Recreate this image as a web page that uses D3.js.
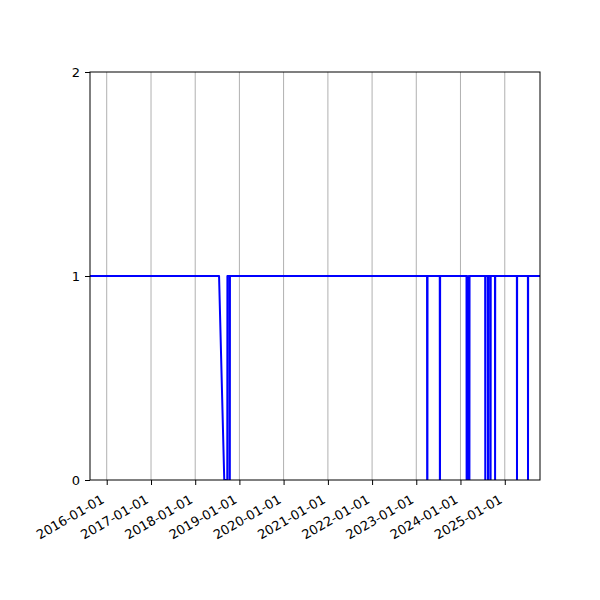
<!DOCTYPE html>
<html>
<head>
<meta charset="utf-8">
<script src="https://cdn.jsdelivr.net/npm/d3@7"></script>
<style>
  body { margin: 0; background: #fff; }
  .domain { display: none; }
  .grid line { stroke: #b0b0b0; stroke-width: 1; }
</style>
</head>
<body>
<svg id="chart" width="600" height="600"></svg>
<script>
// the series: 1 nearly everywhere, with a few drops to 0
const dates = [
    "2015-08-16", "2018-07-17", "2018-08-29", "2018-09-23", "2018-09-24",
    "2018-10-11", "2018-10-12", "2018-10-14", "2018-10-15",
    "2023-03-31", "2023-04-01", "2023-04-03", "2023-04-04",
    "2023-07-14", "2023-07-15", "2023-07-16", "2023-07-17",
    "2024-02-20", "2024-02-21", "2024-03-02", "2024-03-03", "2024-03-05", "2024-03-06", "2024-03-15", "2024-03-16",
    "2024-07-23", "2024-07-24", "2024-07-25",
    "2024-08-14", "2024-08-15", "2024-08-18", "2024-08-19",
    "2024-09-05", "2024-09-06", "2024-09-07",
    "2024-10-12", "2024-10-13", "2024-10-14",
    "2025-04-11", "2025-04-12", "2025-04-13",
    "2025-07-11", "2025-07-12", "2025-07-13",
    "2025-10-19"
];
const values = [
    1, 1, 0, 0, 1,
    1, 0, 0, 1,
    1, 0, 0, 1,
    1, 0, 0, 1,
    1, 0, 0, 1, 1, 0, 0, 1,
    1, 0, 1,
    1, 0, 0, 1,
    1, 0, 1,
    1, 0, 1,
    1, 0, 1,
    1, 0, 1,
    1
];
const xTicks = ["2016-01-01", "2017-01-01", "2018-01-01", "2019-01-01", "2020-01-01",
    "2021-01-01", "2022-01-01", "2023-01-01", "2024-01-01", "2025-01-01"];
const yTicks = [0, 1, 2];

const parse = d3.utcParse("%Y-%m-%d");
const margin = {top: 72, right: 60, bottom: 120, left: 90};
const width = 600 - margin.left - margin.right;
const height = 600 - margin.top - margin.bottom;

const points = dates.map((d, i) => ({date: parse(d), value: values[i]}));

const svg = d3.select('#chart');
const g = svg.append('g')
    .attr('transform', `translate(${margin.left},${margin.top})`);

const x = d3.scaleUtc()
    .domain(d3.extent(points, d => d.date))
    .range([0, width]);
const y = d3.scaleLinear()
    .domain([0, 2])
    .range([height, 0]);

// vertical grid
g.append('g')
    .classed('grid', true)
    .selectAll('line')
    .data(xTicks.map(parse))
    .join('line')
    .attr('x1', d => x(d))
    .attr('x2', d => x(d))
    .attr('y1', 0)
    .attr('y2', height);

g.append('clipPath')
    .attr('id', 'clip')
    .append('rect')
    .attr('width', width)
    .attr('height', height);

g.append('path')
    .datum(points)
    .attr('clip-path', 'url(#clip)')
    .attr('fill', 'none')
    .attr('stroke', '#0000ff')
    .attr('stroke-width', 2)
    .attr('stroke-linejoin', 'round')
    .attr('d', d3.line().x(d => x(d.date)).y(d => y(d.value)));

// frame
g.append('rect')
    .attr('width', width)
    .attr('height', height)
    .attr('fill', 'none')
    .attr('stroke', '#000')
    .attr('stroke-width', 1);

const yAxis = g.append('g')
    .call(d3.axisLeft(y).tickValues(yTicks).tickSize(5).tickPadding(5).tickFormat(d3.format('d')));

const xAxis = g.append('g')
    .attr('transform', `translate(0,${height})`)
    .call(d3.axisBottom(x)
        .tickValues(xTicks.map(parse))
        .tickSize(5)
        .tickFormat(d3.utcFormat('%Y-%m-%d')));

[yAxis, xAxis].forEach(a => {
    a.attr('font-family', '"DejaVu Sans", sans-serif').attr('font-size', 13);
    a.selectAll('.tick text').attr('fill', '#000');
    a.selectAll('.tick line').attr('stroke', '#000');
});

xAxis.selectAll('text')
    .attr('text-anchor', 'end')
    .attr('dy', null)
    .attr('y', 0)
    .attr('x', 0)
    .attr('transform', 'translate(-2,22) rotate(-30)');
</script>
</body>
</html>
